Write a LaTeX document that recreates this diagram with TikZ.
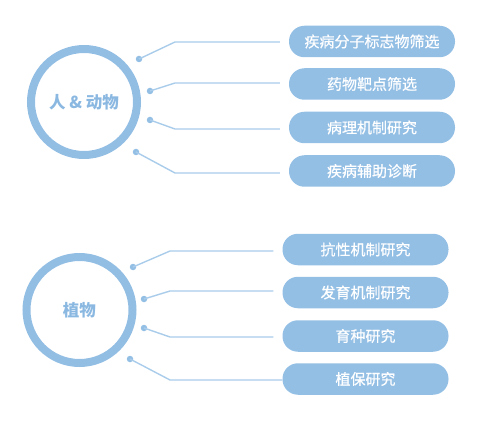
\documentclass[tikz,border=0pt]{standalone}
\usepackage{fontspec}
\setmainfont{Noto Sans CJK SC}
\newfontfamily\cjk{Noto Sans CJK SC}
\newfontfamily\cjkmid[FakeBold=0.6]{Noto Sans CJK SC}
\definecolor{ringblue}{HTML}{93BEE4}
\definecolor{pillblue}{HTML}{94BFE5}
\definecolor{lineblue}{HTML}{A9CCEB}
\definecolor{textblue}{HTML}{8AB8E1}
\tikzset{
  ring/.style={circle, draw=ringblue, line width=8pt, minimum size=106pt, inner sep=0pt,
    text=textblue, font=\cjk\bfseries\fontsize{16.5}{18}\selectfont},
  pill/.style={rounded corners=15.5pt, fill=pillblue, minimum width=166pt, minimum height=31.5pt,
    inner sep=0pt, text=white, font=\cjkmid\fontsize{15}{16}\selectfont},
  dot/.style={circle, fill=pillblue, minimum size=6.5pt, inner sep=0pt},
  link/.style={lineblue, line width=1.4pt}
}
\begin{document}
\begin{tikzpicture}[x=1pt,y=-1pt]
            \useasboundingbox (0,0) rectangle (499,428);

            % Upper group
            \node[ring] (animal) at (84,102) {人 \& 动物};
            \node[pill] (a1) at (372,41.5) {疾病分子标志物筛选};
            \node[pill] (a2) at (372,84) {药物靶点筛选};
            \node[pill] (a3) at (372,127.5) {病理机制研究};
            \node[pill] (a4) at (372,171) {疾病辅助诊断};

            \node[dot] (da1) at (139,59) {};
            \node[dot] (da2) at (150,91) {};
            \node[dot] (da3) at (150,120) {};
            \node[dot] (da4) at (136,152) {};

            \draw[link] (da1.center) -- (175,42) -- ([xshift=-9pt]a1.west |- 0,42);
            \draw[link] (da2.center) -- (175,83) -- ([xshift=-9pt]a2.west |- 0,83);
            \draw[link] (da3.center) -- (175,129) -- ([xshift=-9pt]a3.west |- 0,129);
            \draw[link] (da4.center) -- (175,173) -- ([xshift=-9pt]a4.west |- 0,173);

            % Lower group
            \node[ring] (plant) at (79.5,310) {植物};
            \node[pill] (p1) at (365.5,249.5) {抗性机制研究};
            \node[pill] (p2) at (365.5,292.5) {发育机制研究};
            \node[pill] (p3) at (365.5,336) {育种研究};
            \node[pill] (p4) at (365.5,379) {植保研究};

            \node[dot] (dp1) at (133,267) {};
            \node[dot] (dp2) at (144,299) {};
            \node[dot] (dp3) at (144,328) {};
            \node[dot] (dp4) at (130,359) {};

            \draw[link] (dp1.center) -- (170,251) -- ([xshift=-9pt]p1.west |- 0,251);
            \draw[link] (dp2.center) -- (170,291) -- ([xshift=-9pt]p2.west |- 0,291);
            \draw[link] (dp3.center) -- (170,337) -- ([xshift=-9pt]p3.west |- 0,337);
            \draw[link] (dp4.center) -- (170,380) -- (p4.west |- 0,380);
        \end{tikzpicture}
\end{document}
